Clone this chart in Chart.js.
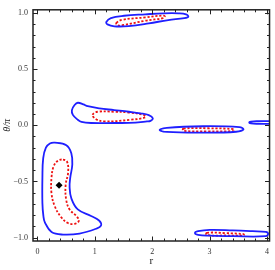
<!DOCTYPE html>
<html>
<head>
<meta charset="utf-8">
<script src="https://cdn.jsdelivr.net/npm/chart.js@4.4.0/dist/chart.umd.min.js"></script>
<style>
  html, body { margin: 0; padding: 0; background: #fff; }
</style>
</head>
<body>
<canvas id="c" width="275" height="270"></canvas>
<script>
// axis ticks (major ones get labels)
const xTicks = [0, 1, 2, 3, 4];
const yTicks = [-1, -0.5, 0, 0.5, 1];
const xMinor = [0.2, 0.4, 0.6, 0.8, 1.2, 1.4, 1.6, 1.8, 2.2, 2.4, 2.6, 2.8, 3.2, 3.4, 3.6, 3.8];
const yMinor = [-0.9, -0.8, -0.7, -0.6, -0.4, -0.3, -0.2, -0.1, 0.1, 0.2, 0.3, 0.4, 0.6, 0.7, 0.8, 0.9];

// contour lines, [r, theta/pi]
const blueTop = [[1.20, 0.918], [1.28, 0.953], [1.51, 0.974], [1.88, 0.987], [2.20, 0.996], [2.46, 0.996],
  [2.59, 0.987], [2.63, 0.967], [2.56, 0.953], [2.28, 0.936], [1.94, 0.906], [1.59, 0.882], [1.34, 0.880], [1.22, 0.897]];
const redTop = [[1.376, 0.910], [1.48, 0.938], [1.88, 0.959], [2.20, 0.976], [2.22, 0.965], [2.19, 0.953],
  [1.88, 0.930], [1.48, 0.890], [1.39, 0.890]];

const blueMidL = [[0.60, 0.135], [0.647, 0.180], [0.703, 0.200], [0.80, 0.185], [0.876, 0.169], [1.078, 0.150],
  [1.336, 0.135], [1.595, 0.120], [1.797, 0.106], [1.94, 0.090], [2.01, 0.063], [1.97, 0.039], [1.91, 0.034],
  [1.595, 0.021], [1.336, 0.020], [0.934, 0.020], [0.767, 0.030], [0.703, 0.049], [0.617, 0.092]];
const redMidL = [[0.962, 0.092], [1.048, 0.120], [1.336, 0.120], [1.595, 0.113], [1.853, 0.092], [1.883, 0.071],
  [1.624, 0.049], [1.164, 0.034], [1.02, 0.054]];

const blueMidR = [[2.129, -0.043], [2.255, -0.023], [2.888, -0.009], [3.52, -0.017], [3.59, -0.037],
  [3.462, -0.058], [2.888, -0.066], [2.255, -0.060]];
const redMidR = [[2.543, -0.030], [2.97, -0.027], [3.42, -0.034], [3.43, -0.043], [3.42, -0.052],
  [2.97, -0.054], [2.543, -0.050]];

const blueEdge = [[4.1, 0.036], [3.85, 0.036], [3.72, 0.033], [3.69, 0.025], [3.72, 0.016], [3.85, 0.013], [4.1, 0.013]];

const blueBig = [[0.302, -0.155], [0.216, -0.163], [0.147, -0.200], [0.10, -0.292], [0.086, -0.464], [0.086, -0.693],
  [0.103, -0.807], [0.129, -0.864], [0.245, -0.950], [0.445, -0.973], [0.733, -0.964], [1.021, -0.921],
  [1.107, -0.893], [1.078, -0.850], [0.934, -0.807], [0.703, -0.749], [0.590, -0.650], [0.560, -0.549],
  [0.572, -0.464], [0.607, -0.349], [0.590, -0.249], [0.503, -0.178]];
const redBig = [[0.445, -0.306], [0.517, -0.326], [0.534, -0.421], [0.491, -0.532], [0.50, -0.661], [0.560, -0.750],
  [0.676, -0.807], [0.721, -0.850], [0.647, -0.878], [0.531, -0.870], [0.417, -0.821], [0.302, -0.721],
  [0.245, -0.607], [0.245, -0.464], [0.284, -0.363], [0.359, -0.315]];

const blueBotR = [[2.745, -0.959], [2.80, -0.943], [3.003, -0.931], [3.405, -0.936], [3.75, -0.943], [3.98, -0.949],
  [4.02, -0.966], [3.98, -0.987], [3.405, -0.987], [3.003, -0.983], [2.80, -0.976]];
const redBotR = [[2.95, -0.957], [3.28, -0.960], [3.59, -0.968], [3.60, -0.975], [3.59, -0.981], [3.28, -0.981], [2.95, -0.977]];

const minPoint = [[0.376, -0.535]];

const BLUE = '#1f1fff';
const RED = '#ee1111';

// closed curve: wrap one point on each side so the join is smooth, hide the extra bits
function closed(pts, color, dashed) {
  const n = pts.length;
  const wrapped = [pts[n - 1], ...pts, pts[0], pts[1]];
  const last = wrapped.length - 1;
  return {
    data: wrapped.map(p => ({ x: p[0], y: p[1] })),
    borderColor: color,
    borderWidth: dashed ? 1.8 : 1.8,
    borderDash: dashed ? [2.2, 1.8] : [],
    pointRadius: 0,
    showLine: true,
    tension: 0.4,
    clip: 0,
    segment: {
      borderColor: ctx => (ctx.p0DataIndex === 0 || ctx.p1DataIndex === last) ? 'rgba(0,0,0,0)' : undefined
    }
  };
}

function open(pts, color) {
  return {
    data: pts.map(p => ({ x: p[0], y: p[1] })),
    borderColor: color,
    borderWidth: 1.8,
    pointRadius: 0,
    showLine: true,
    tension: 0.4,
    clip: 0
  };
}

const fmt = v => {
  if (v === 0) return '0.0';
  const s = Math.abs(v).toFixed(1);
  return v < 0 ? '\u2212' + s : s;
};

// Mathematica-like frame with inward ticks on all four sides
const framePlugin = {
  id: 'frame',
  afterDraw(chart) {
    const ctx = chart.ctx;
    const a = chart.chartArea;
    const xs = chart.scales.x, ys = chart.scales.y;
    ctx.save();
    ctx.strokeStyle = '#222';
    ctx.lineWidth = 1;
    const tick = (vals, len) => {
      vals.forEach(v => {
        const px = Math.round(xs.getPixelForValue(v)) + 0.5;
        ctx.beginPath();
        ctx.moveTo(px, a.bottom); ctx.lineTo(px, a.bottom - len);
        ctx.moveTo(px, a.top); ctx.lineTo(px, a.top + len);
        ctx.stroke();
      });
    };
    const tickY = (vals, len) => {
      vals.forEach(v => {
        const py = Math.round(ys.getPixelForValue(v)) + 0.5;
        ctx.beginPath();
        ctx.moveTo(a.left, py); ctx.lineTo(a.left + len, py);
        ctx.moveTo(a.right, py); ctx.lineTo(a.right - len, py);
        ctx.stroke();
      });
    };
    tick(xTicks, 4.5); tick(xMinor, 2.5);
    tickY(yTicks, 4.5); tickY(yMinor, 2.5);
    ctx.lineWidth = 1.5;
    ctx.strokeRect(a.left, a.top, a.right - a.left, a.bottom - a.top);
    ctx.restore();
  }
};

new Chart(document.getElementById('c'), {
  type: 'scatter',
  data: {
    datasets: [
      closed(blueTop, BLUE, false), closed(redTop, RED, true),
      closed(blueMidL, BLUE, false), closed(redMidL, RED, true),
      closed(blueMidR, BLUE, false), closed(redMidR, RED, true),
      open(blueEdge, BLUE),
      closed(blueBig, BLUE, false), closed(redBig, RED, true),
      closed(blueBotR, BLUE, false), closed(redBotR, RED, true),
      {
        data: minPoint.map(p => ({ x: p[0], y: p[1] })),
        pointStyle: 'rectRot',
        pointRadius: 3.5,
        backgroundColor: '#000',
        borderColor: '#000',
        borderWidth: 0,
        showLine: false
      }
    ]
  },
  options: {
    responsive: false,
    animation: false,
    devicePixelRatio: 1,
    layout: { padding: { top: 1.5, right: 3, left: 0, bottom: 0 } },
    plugins: { legend: { display: false }, tooltip: { enabled: false } },
    scales: {
      x: {
        type: 'linear',
        min: -0.078,
        max: 4.045,
        afterBuildTicks: s => { s.ticks = xTicks.map(v => ({ value: v })); },
        afterFit: s => { s.height = 29; },
        grid: { display: false, drawTicks: false },
        border: { display: false },
        ticks: {
          padding: 6,
          maxRotation: 0,
          color: '#333',
          font: { family: 'Liberation Serif', size: 8 },
          callback: v => String(v)
        },
        title: {
          display: true,
          text: 'r',
          color: '#222',
          font: { family: 'Liberation Serif', size: 11 },
          padding: { top: 0, bottom: 2 }
        }
      },
      y: {
        type: 'linear',
        min: -1.03,
        max: 1.027,
        afterBuildTicks: s => { s.ticks = yTicks.map(v => ({ value: v })); },
        afterFit: s => { s.width = 33; },
        grid: { display: false, drawTicks: false },
        border: { display: false },
        ticks: {
          padding: 5,
          color: '#333',
          font: { family: 'Liberation Serif', size: 8 },
          callback: v => fmt(v)
        },
        title: {
          display: true,
          text: '\u03B8/\u03C0',
          color: '#222',
          font: { family: 'Liberation Serif', size: 10, style: 'italic' },
          padding: { top: 1, bottom: 0 }
        }
      }
    }
  },
  plugins: [framePlugin]
});
</script>
</body>
</html>
